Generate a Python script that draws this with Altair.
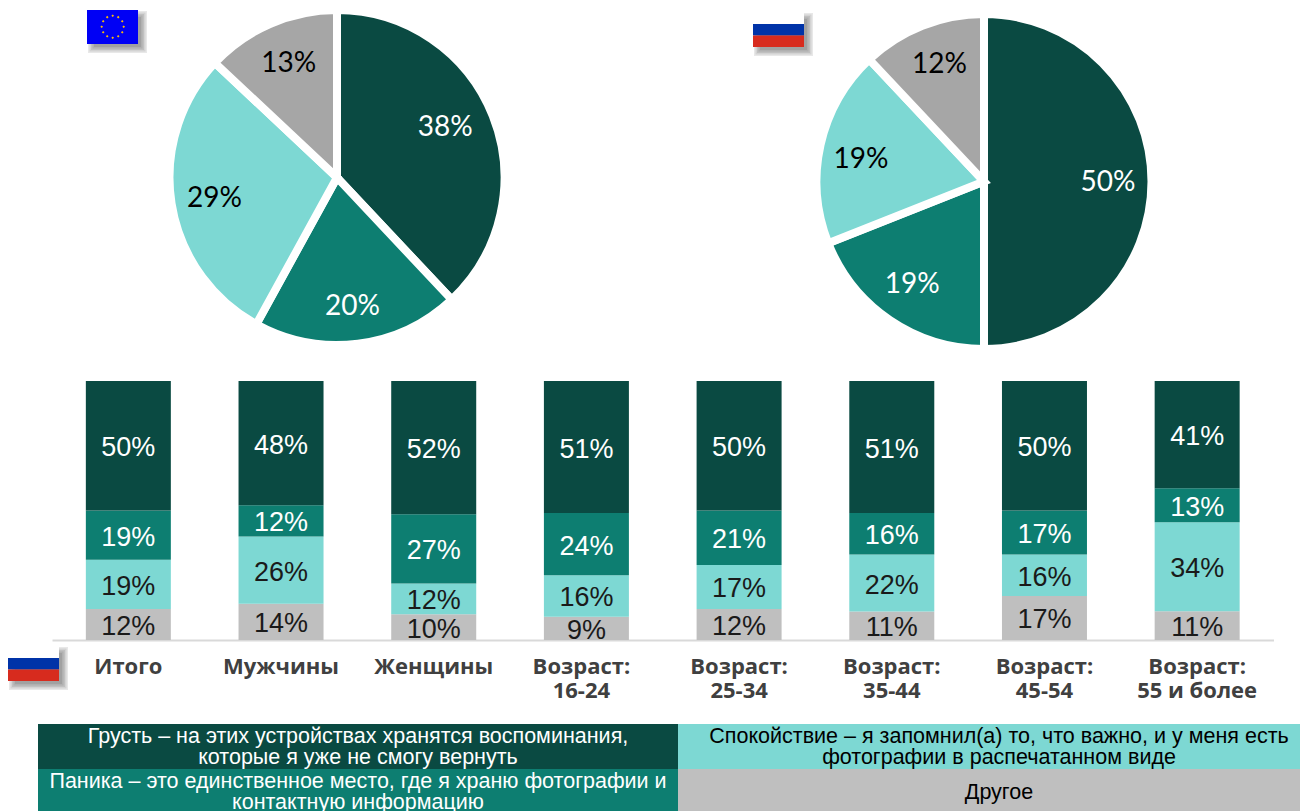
import math
import altair as alt
import pandas as pd

DARK, TEAL, CYAN = "#0A4A42", "#0D7E71", "#7DD8D3"
PIE_GREY, BAR_GREY = "#A6A6A6", "#BFBFBF"

segments = ["Грусть", "Паника", "Спокойствие", "Другое"]
eu_values = [38, 20, 29, 13]
ru_values = [50, 19, 19, 12]

groups = ["Итого", "Мужчины", "Женщины", "Возраст:\n16-24", "Возраст:\n25-34",
          "Возраст:\n35-44", "Возраст:\n45-54", "Возраст:\n55 и более"]
sad = [50, 48, 52, 51, 50, 51, 50, 41]
panic = [19, 12, 27, 24, 21, 16, 17, 13]
calm = [19, 26, 12, 16, 17, 22, 16, 34]
other = [12, 14, 10, 9, 12, 11, 17, 11]

legend_left = [
    ["Грусть – на этих устройствах хранятся воспоминания,", "которые я уже не смогу вернуть"],
    ["Паника – это единственное место, где я храню фотографии и", "контактную информацию"],
]
legend_right = [
    ["Спокойствие – я запомнил(а) то, что важно, и у меня есть", "фотографии в распечатанном виде"],
    ["Другое"],
]

one = pd.DataFrame({"a": [0]})


def box(x0, x1, y0, y1, color, opacity=1.0):
    return alt.Chart(one).mark_rect(color=color, opacity=opacity).encode(
        x=alt.value(x0), x2=alt.value(x1), y=alt.value(y0), y2=alt.value(y1))


def shadow(x0, x1, y0, y1):
    out = []
    for e in (4, 2.5, 1, -0.5, -2):
        out.append(box(x0 + 5 - e, x1 + 5 + e, y0 + 5 - e, y1 + 5 + e, "#303030", 0.11))
    return out


def ru_flag(x0, y0):
    x1 = x0 + 51
    return shadow(x0, x1, y0, y0 + 35) + [
        box(x0, x1, y0, y0 + 12, "#FFFFFF"),
        box(x0, x1, y0 + 12, y0 + 23.5, "#0033A8"),
        box(x0, x1, y0 + 23.5, y0 + 35, "#D72B1E"),
    ]


def eu_flag(x0, y0):
    x1 = x0 + 51
    cx, cy = x0 + 25.7, y0 + 16.7
    stars = pd.DataFrame({
        "px": [cx + 11 * math.cos(math.pi * k / 6) for k in range(12)],
        "py": [cy + 11 * math.sin(math.pi * k / 6) for k in range(12)],
    })
    star = alt.Chart(stars).mark_point(
        filled=True, color="#FFC000", opacity=1, size=7, shape="diamond"
    ).encode(x=alt.X("px:Q", scale=None), y=alt.Y("py:Q", scale=None))
    return shadow(x0, x1, y0, y0 + 34) + [box(x0, x1, y0, y0 + 34, "#0000F5"), star]


THETA_SCALE = alt.Scale(domain=[0, 100])


def pie(values, cx, cy, nudges):
    df = pd.DataFrame({"seg": segments, "v": values, "i": range(4)})
    arcs = alt.Chart(df).mark_arc(
        outerRadius=167.5, stroke="#FFFFFF", strokeWidth=8, clip=True
    ).encode(
        theta=alt.Theta("v:Q", stack=True, scale=THETA_SCALE),
        order=alt.Order("i:Q"),
        x=alt.value(cx), y=alt.value(cy),
        color=alt.Color("seg:N", legend=None, scale=alt.Scale(
            domain=segments, range=[DARK, TEAL, CYAN, PIE_GREY])),
    )
    texts = []
    acc = 0
    inks = ["#FFFFFF", "#FFFFFF", "#000000", "#000000"]
    for v, ink, (dx, dy) in zip(values, inks, nudges):
        row = pd.DataFrame({"mid": [acc + v / 2], "label": [f"{v}%"]})
        acc += v
        texts.append(
            alt.Chart(row).mark_text(radius=124, font="Lato", fontSize=28, color=ink, dx=dx, dy=dy).encode(
                theta=alt.Theta("mid:Q", scale=THETA_SCALE),
                x=alt.value(cx), y=alt.value(cy), text="label:N"))
    return [arcs, *texts]


top = alt.layer(
    *pie(eu_values, 329, 169.5, [(-7, -4), (0, 6), (0, 2), (1, 0)]),
    *pie(ru_values, 976, 173.5, [(0, 1), (-2, 1), (-2, 6), (1, -1)]),
    *eu_flag(79, 2), *ru_flag(745, 4),
).resolve_scale(color="independent").properties(width=1292, height=373)

rows = []
for gi, g in enumerate(groups):
    vals = [sad[gi], panic[gi], calm[gi], other[gi]]
    total = sum(vals)
    acc = 0
    for si in (3, 2, 1, 0):
        lo = acc / total
        acc += vals[si]
        hi = acc / total
        rows.append({"g": g, "seg": segments[si], "lo": lo, "hi": hi, "mid": (lo + hi) / 2,
                     "label": f"{vals[si]}%", "ink": "#FFFFFF" if si < 2 else "#1A1A1A"})
bars_df = pd.DataFrame(rows)
names_df = pd.DataFrame({"g": groups})

bx = alt.X("g:N", sort=groups, title=None, scale=alt.Scale(range=[44, 1265.5]), axis=alt.Axis(
    labels=False, ticks=False, domainColor="#D9D9D9", domainWidth=2, grid=False))
yscale = alt.Scale(domain=[0, 1])
bars = alt.Chart(bars_df).mark_bar(size=85).encode(
    x=bx,
    y=alt.Y("lo:Q", scale=yscale, axis=None),
    y2="hi:Q",
    color=alt.Color("seg:N", legend=None, scale=alt.Scale(
        domain=segments, range=[DARK, TEAL, CYAN, BAR_GREY])),
)
labels = alt.Chart(bars_df).mark_text(font="Liberation Sans", fontSize=27, dy=2.5).encode(
    x=alt.X("g:N", sort=groups),
    y=alt.Y("mid:Q", scale=yscale),
    text="label:N",
    color=alt.Color("ink:N", scale=None),
)


def names(dx, test):
    return alt.Chart(names_df).transform_filter(test).mark_text(
        font="Open Sans", fontWeight="bold", fontSize=22, color="#404040",
        lineBreak="\n", lineHeight=24, baseline="middle", align="center", dx=dx, dy=0,
    ).encode(x=alt.X("g:N", sort=groups), y=alt.value(286), text="g:N")


bar_panel = alt.layer(
    bars, labels,
    names(0, f"datum.g != {groups[3]!r}".replace("\n", "\\n")),
    names(-5, f"datum.g == {groups[3]!r}".replace("\n", "\\n")),
    *ru_flag(0, 265),
).resolve_scale(color="independent").properties(width=1292, height=259)

cells = [
    (legend_left[0], 30, 670, 350, 84, 129, DARK, "#FFFFFF"),
    (legend_left[1], 30, 670, 350, 129, 171, TEAL, "#FFFFFF"),
    (legend_right[0], 670, 1292, 991, 84, 129, CYAN, "#000000"),
    (legend_right[1], 670, 1292, 991, 129, 171, BAR_GREY, "#000000"),
]
legend_layers = []
for lines, x0, x1, tx, y0, y1, fill, ink in cells:
    legend_layers.append(box(x0, x1, y0, y1, fill))
for lines, x0, x1, tx, y0, y1, fill, ink in cells:
    single = len(lines) == 1
    legend_layers.append(
        alt.Chart(pd.DataFrame({"t": ["\n".join(lines)]})).mark_text(
            font="Liberation Sans", fontSize=21.5, color=ink, lineBreak="\n", lineHeight=21,
            baseline="middle" if single else "top", align="center",
        ).encode(x=alt.value(tx),
                 y=alt.value(y0 + 24 if single else y0 + 2),
                 text="t:N"))
legend_panel = alt.layer(*legend_layers).properties(width=1292, height=171)

chart = alt.vconcat(top, bar_panel, legend_panel, spacing=0, bounds="flush").properties(
    padding=0, background="#FFFFFF"
).configure_view(stroke=None)

chart.save("out.html", embed_options={"renderer": "svg", "actions": False})
